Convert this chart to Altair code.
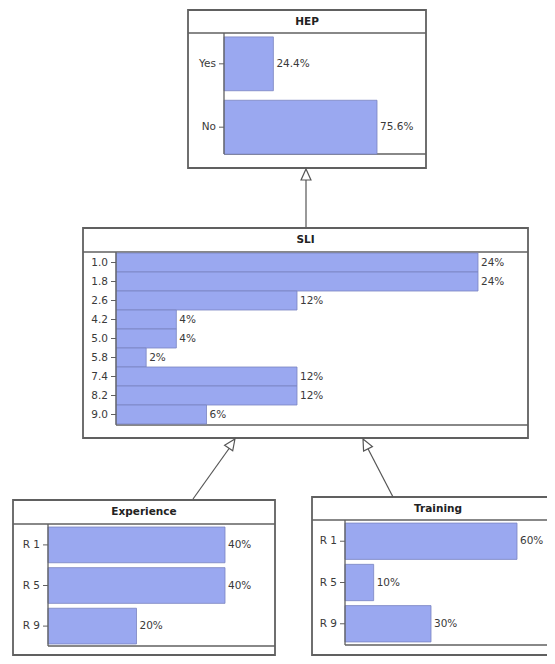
import altair as alt
import pandas as pd

# ---------------- data ----------------
hep_states = ["Yes", "No"]
hep_values = [24.4, 75.6]
hep_labels = ["24.4%", "75.6%"]

sli_states = ["1.0", "1.8", "2.6", "4.2", "5.0", "5.8", "7.4", "8.2", "9.0"]
sli_values = [24, 24, 12, 4, 4, 2, 12, 12, 6]
sli_labels = ["24%", "24%", "12%", "4%", "4%", "2%", "12%", "12%", "6%"]

exp_states = ["R 1", "R 5", "R 9"]
exp_values = [40, 40, 20]
exp_labels = ["40%", "40%", "20%"]

trn_states = ["R 1", "R 5", "R 9"]
trn_values = [60, 10, 30]
trn_labels = ["60%", "10%", "30%"]

# ---------------- layout (page pixels) ----------------
OFF = 8
W, H = 539, 648
FONT = "DejaVu Sans"
BAR_FILL = "#9aa8f0"
BAR_STROKE = "#7a84c0"
LINE = "#606060"
TXT = "#3a3a3a"
FS = 10.5

def p(v):
    return v - OFF

LAYOUT = {
    "HEP": dict(box=(188, 10, 426, 168), sep=33, bottom=154, ax=224, length=153,
                yr=(35, 156), pi=0.15, po=0.03, title_y=22),
    "SLI": dict(box=(83, 228, 528, 438), sep=252, bottom=425, ax=116, length=362,
                yr=(253, 424), pi=0.0, po=0.0, title_y=240),
    "Experience": dict(box=(13, 500, 275, 655), sep=524, bottom=646, ax=48, length=177,
                       yr=(525, 646), pi=0.12, po=0.05, title_y=512),
    "Training": dict(box=(312, 497, 565, 655), sep=520, bottom=645, ax=345, length=172,
                     yr=(521, 644), pi=0.12, po=0.05, title_y=509),
}


def panel(name, states, values, labels):
    lay = LAYOUT[name]
    ax = p(lay["ax"])
    df = pd.DataFrame({"state": states, "value": values, "label": labels})
    xs = alt.Scale(domain=[0, max(values)],
                   range=[ax, p(lay["ax"] + lay["length"])])
    ys = alt.Scale(domain=states, range=[p(lay["yr"][0]), p(lay["yr"][1])],
                   paddingInner=lay["pi"], paddingOuter=lay["po"])
    Y = alt.Y("state:N", scale=ys, axis=None, sort=states)
    base = alt.Chart(df)
    bars = base.mark_bar(fill=BAR_FILL, stroke=BAR_STROKE, strokeWidth=0.8).encode(
        x=alt.X("value:Q", scale=xs, axis=None), y=Y)
    text = base.mark_text(align="left", baseline="middle", dx=3, font=FONT,
                          fontSize=FS, color=TXT).encode(
        x=alt.X("value:Q", scale=xs, axis=None), y=Y, text="label:N")
    # category axis
    ticks = base.mark_rule(color=LINE, strokeWidth=1).encode(
        x=alt.value(ax - 5), x2=alt.value(ax), y=Y)
    tick_labels = base.mark_text(align="right", baseline="middle", font=FONT,
                                 fontSize=FS, color=TXT).encode(
        x=alt.value(ax - 8), y=Y, text="state:N")
    domain = alt.Chart(pd.DataFrame({"a": [0]})).mark_rule(
        color=LINE, strokeWidth=1.3).encode(
        x=alt.value(ax), y=alt.value(p(lay["sep"])), y2=alt.value(p(lay["bottom"])))
    return alt.layer(bars, text, ticks, tick_labels, domain)


# ---------------- node frames ----------------
boxes, lines, titles = [], [], []
for name, lay in LAYOUT.items():
    x0, y0, x1, y1 = lay["box"]
    boxes.append(dict(x=p(x0), x2=p(x1), y=p(y0), y2=p(y1)))
    lines.append(dict(x=p(x0), x2=p(x1), y=p(lay["sep"]), y2=p(lay["sep"])))
    lines.append(dict(x=p(lay["ax"]), x2=p(x1), y=p(lay["bottom"]), y2=p(lay["bottom"])))
    cx = (x0 + x1) / 2 if name != "Training" else 438
    titles.append(dict(x=p(cx), y=p(lay["title_y"]), t=name))

boxes_df = pd.DataFrame(boxes)
lines_df = pd.DataFrame(lines)
titles_df = pd.DataFrame(titles)

frame = alt.Chart(boxes_df).mark_rect(fill="white", stroke=LINE, strokeWidth=1.8).encode(
    x=alt.X("x:Q", scale=None), x2="x2:Q", y=alt.Y("y:Q", scale=None), y2="y2:Q")
inner = alt.Chart(lines_df).mark_rule(color=LINE, strokeWidth=1.5).encode(
    x=alt.X("x:Q", scale=None), x2="x2:Q", y=alt.Y("y:Q", scale=None), y2="y2:Q")
title_marks = alt.Chart(titles_df).mark_text(font=FONT, fontSize=10.5, fontWeight="bold",
                                             color="#222222", baseline="middle").encode(
    x=alt.X("x:Q", scale=None), y=alt.Y("y:Q", scale=None), text="t:N")

# ---------------- arrows (child -> parent) ----------------
arrows = [
    dict(x=p(306), y=p(227), x2=p(306), y2=p(172)),
    dict(x=p(193), y=p(499), x2=p(233), y2=p(443)),
    dict(x=p(393), y=p(497), x2=p(365), y2=p(443)),
]
heads = [
    dict(x=p(306), y=p(174.5), a=0),
    dict(x=p(231.8), y=p(443.5), a=35),
    dict(x=p(365.5), y=p(443.9), a=333),
]
shaft = alt.Chart(pd.DataFrame(arrows)).mark_rule(color="#555555", strokeWidth=1.2).encode(
    x=alt.X("x:Q", scale=None), x2="x2:Q", y=alt.Y("y:Q", scale=None), y2="y2:Q")
head = alt.Chart(pd.DataFrame(heads)).mark_point(
    shape="M0,-1L0.9,1L-0.9,1Z", size=121, filled=True, fill="white",
    stroke="#555555", strokeWidth=1.2, opacity=1).encode(
    x=alt.X("x:Q", scale=None), y=alt.Y("y:Q", scale=None),
    angle=alt.Angle("a:Q", scale=None))

chart = alt.layer(
    frame, inner,
    panel("HEP", hep_states, hep_values, hep_labels),
    panel("SLI", sli_states, sli_values, sli_labels),
    panel("Experience", exp_states, exp_values, exp_labels),
    panel("Training", trn_states, trn_values, trn_labels),
    title_marks, shaft, head,
).resolve_scale(x="independent", y="independent").properties(
    width=W, height=H, autosize=alt.AutoSizeParams(type="none"), padding=0,
    background="white",
).configure_view(stroke=None)

chart.save("out.html", embed_options={"renderer": "svg", "actions": False})
